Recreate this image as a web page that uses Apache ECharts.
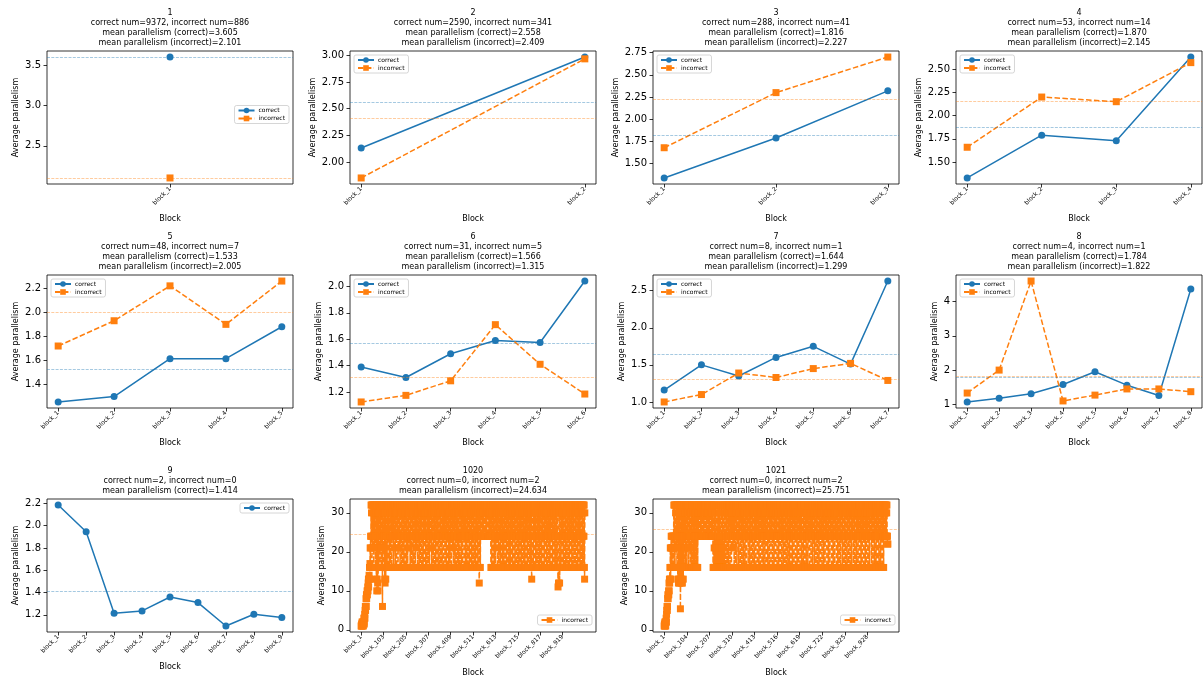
<!DOCTYPE html>
<html><head><meta charset="utf-8">
<script src="https://cdn.jsdelivr.net/npm/echarts@6/dist/echarts.min.js"></script>
<style>html,body{margin:0;padding:0;background:#fff}#c{width:1203px;height:681px}</style>
</head><body><div id="c"></div><script>
// ---------- DATA ----------
const panelIds = ['1','2','3','4','5','6','7','8','9','1020','1021'];
const correctNum = [9372,2590,288,53,48,31,8,4,2,0,0];
const incorrectNum = [886,341,41,14,7,5,1,1,0,2,2];
const meanCorrect = [3.605,2.558,1.816,1.870,1.533,1.566,1.644,1.784,1.414,null,null];
const meanIncorrect = [2.101,2.409,2.227,2.145,2.005,1.315,1.299,1.822,null,24.634,25.751];

const blockNames = ['block_1','block_2','block_3','block_4','block_5','block_6','block_7','block_8','block_9'];
const blockTicks1020 = ['block_1','block_103','block_205','block_307','block_409','block_511','block_613','block_715','block_817','block_919'];
const blockTicks1021 = ['block_1','block_104','block_207','block_310','block_413','block_516','block_619','block_722','block_825','block_928'];

const correct1 = [3.605];
const incorrect1 = [2.101];
const correct2 = [2.131, 2.985];
const incorrect2 = [1.850, 2.968];
const correct3 = [1.34, 1.79, 2.32];
const incorrect3 = [1.68, 2.30, 2.70];
const correct4 = [1.33, 1.79, 1.73, 2.63];
const incorrect4 = [1.66, 2.20, 2.15, 2.57];
const correct5 = [1.255, 1.30, 1.615, 1.615, 1.88];
const incorrect5 = [1.72, 1.93, 2.22, 1.90, 2.26];
const correct6 = [1.39, 1.31, 1.49, 1.59, 1.575, 2.04];
const incorrect6 = [1.125, 1.175, 1.285, 1.71, 1.41, 1.185];
const correct7 = [1.16, 1.50, 1.35, 1.60, 1.75, 1.51, 2.63];
const incorrect7 = [1.00, 1.10, 1.39, 1.33, 1.45, 1.52, 1.29];
const correct8 = [1.07, 1.18, 1.31, 1.58, 1.95, 1.56, 1.26, 4.37];
const incorrect8 = [1.33, 2.00, 4.60, 1.10, 1.27, 1.45, 1.45, 1.37];
const correct9 = [2.185, 1.945, 1.215, 1.235, 1.36, 1.31, 1.10, 1.205, 1.175];
const incorrect9 = [];
const correct1020 = [];
const incorrect1020 = [
1,1,1.5,1,2,1.5,1,2,1.5,2,1,2,3,2,1.5,3,4,3,5,6,
5,6,8,6,9,8,9,10,9,10,11,10,12,13,11,13,14,13,16,13,
17,21,16,24,21,32,24,30,32,16,24,32,21,32,30,24,32,16,32,24,
32,21,30,32,24,16,32,30,24,13,32,10,24,13,32,12,30,10,24,32,
16,32,24,30,32,16,24,32,30,21,32,24,16,32,30,24,32,6,24,32,
30,16,32,24,30,32,24,13,32,12,30,24,13,32,16,24,32,30,16,32,
24,32,16,24,30,32,24,32,16,32,24,30,32,24,16,32,30,24,32,16,
32,24,30,32,24,32,30,16,24,32,21,32,24,30,32,16,32,24,32,30,
24,16,32,30,24,32,24,32,16,24,32,30,32,24,21,32,24,16,30,32,
24,32,30,24,16,32,24,32,30,16,24,32,24,30,32,16,32,24,30,32,
16,24,32,30,24,32,16,32,24,30,32,24,16,32,30,24,32,21,24,32,
30,24,32,16,24,32,30,32,24,16,32,24,30,32,24,32,16,30,24,32,
32,16,24,30,32,24,32,16,30,24,32,24,32,21,30,32,24,16,32,24,
30,32,24,32,16,24,30,32,24,32,16,32,30,24,32,24,16,30,32,24,
32,30,16,24,32,24,30,32,16,32,24,30,32,24,16,32,30,24,32,16,
24,32,30,24,32,16,30,24,32,24,32,16,24,30,32,24,32,21,30,32,
24,16,32,24,30,32,24,32,16,24,30,32,24,32,16,32,30,24,32,24,
16,30,32,24,32,24,16,32,30,24,32,16,24,32,30,24,32,24,16,32,
30,24,32,16,24,32,30,32,24,16,32,24,30,32,24,32,16,30,24,32,
24,32,16,30,32,24,32,24,16,32,30,24,32,16,24,30,32,24,32,16,
32,24,30,32,16,24,32,30,24,32,24,16,32,30,24,32,21,24,32,30,
16,32,24,30,32,24,32,16,24,30,32,24,32,16,30,32,24,32,24,16,
32,30,24,32,16,24,32,30,32,24,16,32,24,30,32,24,32,16,30,24,
32,24,16,32,30,24,32,24,32,16,30,24,32,24,30,16,32,24,32,30,
24,16,32,24,30,32,16,24,32,30,24,32,24,16,32,30,24,32,16,24,
32,30,32,24,16,32,24,30,32,24,16,32,30,24,32,16,24,32,30,24,
32,16,24,32,30,24,32,16,30,24,32,24,16,32,30,24,32,16,12,16,
24,32,30,16,32,24,30,32,24,32,30,24,32,30,32,24,30,32,24,32,
30,32,24,32,30,24,32,30,32,24,30,32,24,32,30,32,24,30,32,24,
32,30,24,32,30,32,24,32,30,24,32,16,24,32,30,16,32,24,30,32,
16,24,32,30,24,32,16,32,24,30,32,24,16,32,30,24,32,21,24,32,
30,16,32,24,32,30,24,16,32,24,30,32,24,32,16,30,24,32,24,16,
32,30,24,32,16,24,30,32,24,32,16,32,24,30,32,24,16,32,30,24,
32,24,16,30,32,24,32,16,24,32,30,24,32,16,32,24,30,32,24,16,
32,30,24,32,24,16,32,30,24,32,16,24,32,30,32,24,16,32,24,30,
32,16,24,32,30,24,32,24,16,32,30,24,32,16,24,30,32,24,32,16,
30,24,32,16,32,24,30,32,24,16,32,24,30,32,16,24,32,30,24,32,
16,32,24,30,32,24,16,32,30,24,32,16,24,32,30,24,32,16,30,32,
24,32,16,24,30,32,24,32,16,30,24,32,24,16,32,30,16,13,16,24,
32,30,24,32,16,24,32,30,24,32,16,32,24,30,32,24,16,32,30,24,
32,16,24,32,30,24,32,16,30,24,32,24,16,32,30,32,24,16,32,24,
30,32,16,24,32,30,24,32,16,24,32,30,32,24,16,32,24,30,32,16,
24,32,30,24,32,16,30,24,32,16,24,32,30,24,32,16,32,24,30,32,
16,24,32,30,24,32,16,24,32,30,32,24,16,30,32,24,32,16,24,32,
30,24,32,16,32,24,30,32,16,24,32,30,24,16,32,24,16,11,16,12,
16,24,32,30,12,16,32,24,30,32,16,24,32,30,24,32,16,30,24,32,
24,16,32,30,24,32,16,24,32,30,32,24,16,32,24,30,32,16,24,32,
30,24,32,16,24,32,30,24,32,16,32,30,24,32,16,24,30,32,24,32,
16,30,24,32,24,16,32,30,24,32,16,24,32,30,32,24,16,32,24,30,
32,16,24,32,30,24,32,16,30,24,32,24,16,32,30,24,32,16,24,32,
30,24,32,16,24,32,30,32,24,16,32,24,30,32,16,24,32,16,13,30
];
const correct1021 = [];
const incorrect1021 = [
1,1.5,1,2,1,1.5,2,1,2,3,2,4,5,6,5,6,8,9,8,9,
10,9,12,10,13,12,16,13,21,13,16,21,24,16,21,24,16,21,24,21,
16,24,21,24,32,24,16,32,24,21,32,24,30,32,16,24,32,21,24,32,
24,32,13,24,32,12,30,13,24,32,12,24,13,32,5.4,13,24,32,12,30,
13,24,32,12,16,32,24,13,30,32,16,24,32,21,30,24,32,16,24,32,
21,32,24,30,16,32,24,32,21,24,30,32,16,24,32,24,21,32,30,24,
16,32,24,16,30,32,16,24,32,16,24,30,16,32,24,16,32,24,16,30,
32,16,24,32,16,24,30,16,32,24,16,32,24,16,32,24,30,32,24,32,
30,24,32,24,32,30,24,32,24,30,32,24,32,30,24,32,24,32,30,24,
32,24,30,32,24,32,24,30,32,24,32,30,24,32,24,32,30,24,32,24,
32,30,24,32,24,32,30,24,32,24,30,32,24,32,24,30,32,24,32,30,
24,32,24,16,24,32,16,16,21,32,16,24,16,30,16,21,32,16,24,16,
32,16,21,24,16,32,16,24,16,30,21,16,32,16,24,16,32,21,16,24,
16,32,16,24,21,16,30,16,32,24,16,21,32,16,24,16,32,24,30,32,
24,16,32,30,24,32,30,16,32,24,32,30,24,16,32,24,30,32,24,32,
16,30,32,24,32,24,30,16,32,24,30,32,24,32,21,32,24,30,32,16,
32,24,30,32,24,16,32,30,24,32,24,32,16,30,24,32,30,24,32,24,
16,32,24,30,32,24,32,16,24,32,30,24,32,30,16,32,24,32,30,24,
32,16,30,24,32,24,32,30,16,24,32,30,24,32,24,16,32,30,24,32,
30,24,32,16,24,32,30,32,24,30,16,32,24,32,30,24,32,16,24,30,
32,24,32,30,16,24,32,24,30,32,24,16,32,30,24,32,24,30,16,32,
24,32,30,24,32,16,24,30,32,24,32,30,16,24,32,24,30,32,24,16,
32,30,24,32,24,30,16,32,24,32,30,24,16,32,24,30,32,24,32,16,
30,24,32,24,30,32,16,24,32,30,24,32,24,16,30,32,24,32,30,24,
16,32,24,30,32,24,32,16,30,24,32,24,30,32,16,24,32,30,24,32,
24,16,32,30,24,32,30,24,16,32,24,32,30,24,32,16,24,30,32,24,
32,30,16,24,32,24,30,32,24,16,32,30,24,32,24,30,16,32,24,32,
30,24,32,16,24,32,30,24,32,30,16,24,32,24,30,32,24,16,32,30,
24,32,24,30,16,32,24,32,30,24,32,16,24,30,32,24,32,30,16,24,
32,30,24,32,24,16,30,32,24,32,30,24,16,32,24,30,32,24,32,16,
24,32,30,24,32,30,16,24,32,24,30,32,24,16,32,30,24,32,24,30,
16,32,24,32,30,24,32,16,24,30,32,24,32,30,16,24,32,24,30,32,
24,16,30,32,24,32,24,30,16,32,24,32,30,24,32,16,24,30,32,24,
32,30,24,16,32,24,30,32,24,32,16,30,24,32,24,30,32,16,24,32,
30,24,32,24,30,16,32,24,32,30,24,32,16,24,30,32,24,32,30,16,
24,32,30,24,32,24,16,30,32,24,32,30,24,16,32,24,30,32,24,32,
16,30,24,32,24,32,30,16,24,32,30,24,32,24,16,32,30,24,32,30,
24,32,16,24,30,32,24,32,30,16,24,32,24,30,32,24,16,32,30,24,
32,24,30,32,16,24,32,30,24,32,24,16,30,32,24,32,30,24,16,32,
24,30,32,24,32,30,16,24,32,24,30,32,16,24,32,30,24,32,24,16,
30,32,24,32,24,16,30,32,24,30,32,24,32,16,24,30,32,24,32,30,
16,24,32,30,24,32,24,16,32,30,24,32,30,24,16,32,24,32,30,24,
32,16,24,30,32,24,32,30,16,24,32,24,30,32,24,16,32,30,24,32,
24,30,32,16,24,32,30,24,32,24,16,30,32,24,32,30,24,16,32,24,
30,32,24,32,16,30,24,32,24,30,32,16,24,32,30,24,32,24,16,30,
32,24,30,16,32,24,32,30,24,32,16,24,30,32,24,32,30,16,24,32,
24,32,16,30,24,32,30,24,32,16,24,32,30,24,32,24,16,30,32,24,
32,30,24,32,24,16,32,30,24,32,30,24,16,32,24,30,32,24,32,16,
30,24,32,24,30,32,16,24,32,30,24,32,24,16,30,32,24,32,30,24,
16,32,24,30,32,24,32,16,24,30,32,24,32,30,16,24,32,24,30,32,
24,16,32,30,24,32,24,30,32,24,32,30,24,32,24,30,32,24,24,22,
22
];

const yTicks1 = ['2.5','3.0','3.5'];
const yTicks2 = ['2.00','2.25','2.50','2.75','3.00'];
const yTicks3 = ['1.50','1.75','2.00','2.25','2.50','2.75'];
const yTicks4 = ['1.50','1.75','2.00','2.25','2.50'];
const yTicks5 = ['1.4','1.6','1.8','2.0','2.2'];
const yTicks6 = ['1.2','1.4','1.6','1.8','2.0'];
const yTicks7 = ['1.0','1.5','2.0','2.5'];
const yTicks8 = ['1','2','3','4'];
const yTicks9 = ['1.2','1.4','1.6','1.8','2.0','2.2'];
const yTicks1020 = ['0','10','20','30'];
const yTicks1021 = ['0','10','20','30'];

// ---------- LAYOUT / BUILD ----------
const FONT = 'DejaVu Sans';
const C0 = '#1f77b4', C1 = '#ff7f0e';
const gridLefts = [47, 350, 653, 956];
const gridTops = [51, 275, 499];
const GW = 246, GH = 133;
const W = 1203, H = 681;

const panels = [
  {c: correct1, i: incorrect1, yt: yTicks1, xt: null, leg: 'cr'},
  {c: correct2, i: incorrect2, yt: yTicks2, xt: null, leg: 'ul'},
  {c: correct3, i: incorrect3, yt: yTicks3, xt: null, leg: 'ul'},
  {c: correct4, i: incorrect4, yt: yTicks4, xt: null, leg: 'ul'},
  {c: correct5, i: incorrect5, yt: yTicks5, xt: null, leg: 'ul'},
  {c: correct6, i: incorrect6, yt: yTicks6, xt: null, leg: 'ul'},
  {c: correct7, i: incorrect7, yt: yTicks7, xt: null, leg: 'ul'},
  {c: correct8, i: incorrect8, yt: yTicks8, xt: null, leg: 'ul'},
  {c: correct9, i: incorrect9, yt: yTicks9, xt: null, leg: 'ur'},
  {c: correct1020, i: incorrect1020, yt: yTicks1020, xt: blockTicks1020, leg: 'lr'},
  {c: correct1021, i: incorrect1021, yt: yTicks1021, xt: blockTicks1021, leg: 'lr'}
];

function textWidth(s, size) {
  const cv = textWidth.cv || (textWidth.cv = document.createElement('canvas'));
  const ctx = cv.getContext('2d');
  ctx.font = size + 'px "' + FONT + '"';
  return ctx.measureText(s).width;
}

const grids = [], xAxes = [], yAxes = [], series = [], titles = [], legends = [];

panels.forEach((p, k) => {
  const col = k % 4, row = Math.floor(k / 4);
  const left = gridLefts[col], top = gridTops[row];
  grids.push({left: left, top: top, width: GW, height: GH, show: true,
    borderColor: '#000', borderWidth: 0.8, backgroundColor: 'transparent', containLabel: false});

  const n = Math.max(p.c.length, p.i.length);
  let xmin, xmax;
  if (n === 1) { xmin = -0.055; xmax = 0.055; }
  else { xmin = -0.05 * (n - 1); xmax = 1.05 * (n - 1); }
  let xLabels, xVals;
  if (p.xt) { xLabels = p.xt; xVals = p.xt.map(s => parseInt(s.split('_')[1], 10) - 1); }
  else { xLabels = blockNames.slice(0, n); xVals = xLabels.map((s, j) => j); }
  const xLong = p.xt !== null;
  xAxes.push({type: 'value', gridIndex: k, min: xmin, max: xmax, position: 'bottom',
    name: 'Block', nameLocation: 'middle', nameGap: xLong ? 37 : 31,
    nameTextStyle: {fontSize: 8, color: '#000', fontFamily: FONT},
    axisLine: {show: false, onZero: false},
    axisTick: {show: true, length: 3.5, lineStyle: {color: '#000', width: 0.8}, customValues: xVals},
    axisLabel: {show: true, rotate: 45, fontSize: 6, color: '#000', fontFamily: FONT, margin: 4,
      customValues: xVals, formatter: v => { const j = xVals.indexOf(Math.round(v)); return j >= 0 ? xLabels[j] : ''; }},
    splitLine: {show: false}});

  const all = p.c.concat(p.i);
  const lo = Math.min.apply(null, all), hi = Math.max.apply(null, all);
  const rng = hi - lo;
  const yVals = p.yt.map(parseFloat);
  const maxW = Math.max.apply(null, p.yt.map(s => textWidth(s, 10)));
  yAxes.push({type: 'value', gridIndex: k, min: lo - 0.05 * rng, max: hi + 0.05 * rng, position: 'left',
    name: 'Average parallelism', nameLocation: 'middle', nameRotate: 90, nameGap: 11 + maxW,
    nameTextStyle: {fontSize: 8, color: '#000', fontFamily: FONT},
    axisLine: {show: false, onZero: false},
    axisTick: {show: true, length: 3.5, lineStyle: {color: '#000', width: 0.8}, customValues: yVals},
    axisLabel: {show: true, fontSize: 10, color: '#000', fontFamily: FONT, margin: 6,
      customValues: yVals, formatter: v => { let b = 0, bd = 1e9; yVals.forEach((t, j) => { const d = Math.abs(t - v); if (d < bd) { bd = d; b = j; } }); return p.yt[b]; }},
    splitLine: {show: false}});

  const names = [];
  if (p.c.length) {
    names.push('correct');
    series.push({type: 'line', name: 'correct', xAxisIndex: k, yAxisIndex: k,
      data: p.c.map((v, j) => [j, v]), symbol: 'circle', symbolSize: 7,
      itemStyle: {color: C0}, lineStyle: {color: C0, width: 1.5, type: 'solid'},
      z: 3, silent: true,
      markLine: {silent: true, symbol: 'none', label: {show: false},
        lineStyle: {color: C0, width: 0.8, type: [3, 1.3], opacity: 0.5},
        data: [{yAxis: meanCorrect[k]}]}});
  }
  if (p.i.length) {
    names.push('incorrect');
    series.push({type: 'line', name: 'incorrect', xAxisIndex: k, yAxisIndex: k,
      data: p.i.map((v, j) => [j, v]), symbol: 'rect', symbolSize: 7,
      itemStyle: {color: C1}, lineStyle: {color: C1, width: 1.5, type: [5.5, 2.4]},
      z: 4, silent: true,
      markLine: {silent: true, symbol: 'none', label: {show: false},
        lineStyle: {color: C1, width: 0.8, type: [3, 1.3], opacity: 0.5},
        data: [{yAxis: meanIncorrect[k]}]}});
  }

  const lines = [panelIds[k], 'correct num=' + correctNum[k] + ', incorrect num=' + incorrectNum[k]];
  if (meanCorrect[k] !== null) lines.push('mean parallelism (correct)=' + meanCorrect[k].toFixed(3));
  if (meanIncorrect[k] !== null) lines.push('mean parallelism (incorrect)=' + meanIncorrect[k].toFixed(3));
  const lastCenter = top - 8;
  titles.push({text: lines.join('\n'), left: left + GW / 2, textAlign: 'center',
    top: lastCenter - 10 * (lines.length - 1) - 5, padding: 0, itemGap: 0,
    textStyle: {fontSize: 8, lineHeight: 10, fontWeight: 'normal', color: '#000', fontFamily: FONT}});

  const lg = {data: names, orient: 'vertical', itemWidth: 16, itemHeight: 7, itemGap: 2,
    padding: [2, 4, 2, 3], borderColor: '#cccccc', borderWidth: 0.8, borderRadius: 2,
    backgroundColor: 'rgba(255,255,255,0.8)', selectedMode: false,
    textStyle: {fontSize: 6, color: '#000', fontFamily: FONT, padding: [0, 0, 0, -1]}};
  const lh = names.length * 9 + (names.length - 1) * 2 + 4;
  if (p.leg === 'ul') { lg.left = left + 4; lg.top = top + 4; }
  else if (p.leg === 'ur') { lg.right = W - (left + GW) + 4; lg.top = top + 4; }
  else if (p.leg === 'lr') { lg.right = W - (left + GW) + 4; lg.top = top + GH - 4 - lh; }
  else { lg.right = W - (left + GW) + 4; lg.top = top + GH / 2 - lh / 2; }
  legends.push(lg);
});

const chart = echarts.init(document.getElementById('c'), null, {renderer: 'canvas', width: W, height: H});
chart.setOption({
  animation: false, backgroundColor: '#fff',
  textStyle: {fontFamily: FONT},
  title: titles, grid: grids, xAxis: xAxes, yAxis: yAxes, legend: legends, series: series
});
</script></body></html>
